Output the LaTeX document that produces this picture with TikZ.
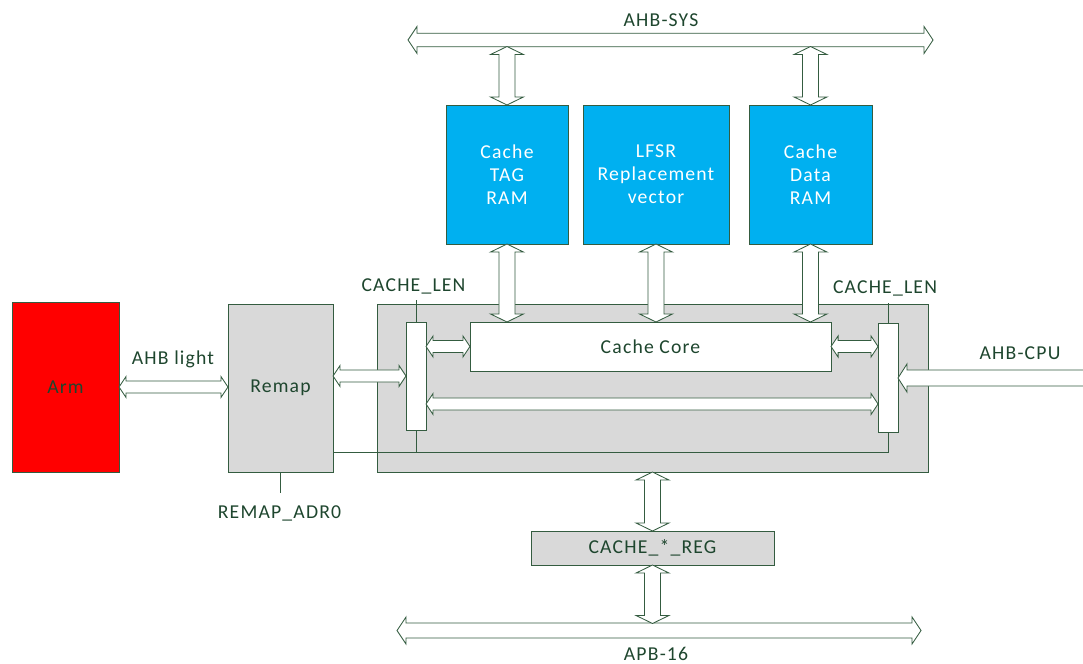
\documentclass[tikz,border=0pt]{standalone}
\usepackage{fontspec}
\setmainfont[LetterSpace=6]{Carlito}
\usepackage{tikz}
\usetikzlibrary{calc}
\definecolor{linegreen}{RGB}{52,92,64}
\definecolor{textgreen}{RGB}{30,70,46}
\definecolor{boxgray}{RGB}{217,217,217}
\definecolor{ramblue}{RGB}{0,176,240}
\newcommand{\sigfont}{\fontsize{14}{16.4}\selectfont}
\tikzset{bus shaft/.store in=\busshaft, bus head/.store in=\bushead, bus tip/.store in=\bustip, bus shaft=4.3pt, bus head=7.5pt, bus tip=5pt}
\tikzset{block/.style={rectangle, draw=linegreen, line width=0.6pt, inner sep=0pt, outer sep=0pt, text=textgreen, font=\sigfont}}
\tikzset{graybox/.style={block, fill=boxgray}}
\tikzset{rambox/.style={block, fill=ramblue, text=white, align=center, minimum width=#1, minimum height=3.475cm}}
\tikzset{muxbox/.style={block, fill=white, minimum width=0.5cm}}
\tikzset{signame/.style={text=textgreen, anchor=base, inner sep=0pt, font=\sigfont}}
\tikzset{wire/.style={draw=linegreen, line width=0.6pt}}
\tikzset{hbus/.style={draw=linegreen, fill=white, line width=0.6pt, to path={let \p1=(\tikztostart), \p2=(\tikztotarget) in
  (\x1,\y1) -- (\x1+\bustip,\y1+\bushead) -- (\x1+\bustip,\y1+\busshaft) -- (\x2-\bustip,\y1+\busshaft) -- (\x2-\bustip,\y1+\bushead) -- (\x2,\y1)
  -- (\x2-\bustip,\y1-\bushead) -- (\x2-\bustip,\y1-\busshaft) -- (\x1+\bustip,\y1-\busshaft) -- (\x1+\bustip,\y1-\bushead) -- cycle}}}
\tikzset{hbusin/.style={draw=linegreen, fill=white, line width=0.6pt, to path={let \p1=(\tikztostart), \p2=(\tikztotarget) in
  (\x2,\y2) -- (\x2+\bustip,\y2+\bushead) -- (\x2+\bustip,\y2+\busshaft) -- (\x1,\y2+\busshaft) -- (\x1,\y2-\busshaft) -- (\x2+\bustip,\y2-\busshaft) -- (\x2+\bustip,\y2-\bushead) -- cycle}}}
\tikzset{vbus/.style={draw=linegreen, fill=white, line width=0.6pt, bus shaft=5.7pt, bus head=11.7pt, bus tip=5.7pt, to path={let \p1=(\tikztostart), \p2=(\tikztotarget) in
  (\x1,\y1) -- (\x1+\bushead,\y1-\bustip) -- (\x1+\busshaft,\y1-\bustip) -- (\x1+\busshaft,\y2+\bustip) -- (\x1+\bushead,\y2+\bustip) -- (\x1,\y2)
  -- (\x1-\bushead,\y2+\bustip) -- (\x1-\busshaft,\y2+\bustip) -- (\x1-\busshaft,\y1-\bustip) -- (\x1-\bushead,\y1-\bustip) -- cycle}}}
\tikzset{sysbus/.style={hbus, bus shaft=4.8pt, bus head=9.6pt, bus tip=6.4pt}}

\begin{document}
\begin{tikzpicture}[x=0.025cm, y=-0.025cm]
    \useasboundingbox (0,0) rectangle (1083,663);

    \node [block, fill=red, minimum width=2.675cm, minimum height=4.25cm](arm) at (65.5,387){Arm};
    \node [graybox, minimum width=2.625cm, minimum height=4.2cm](remap) at (280.5,388){Remap};
    \node [graybox, minimum width=13.775cm, minimum height=4.2cm](cache) at (652.5,388){};
    \node [block, fill=white, minimum width=9.025cm, minimum height=1.225cm](core) at (650.5,346.5){Cache Core};
    \node [muxbox, minimum height=2.7cm](lmux) at (416,376){};
    \node [muxbox, minimum height=2.725cm](rmux) at (888,377.5){};
    \node [rambox=3.05cm](tag) at (507,174.5){Cache\\TAG\\RAM};
    \node [rambox=3.65cm](lfsr) at (656,174.5){LFSR\\Replacement\\vector};
    \node [rambox=3.075cm](data) at (810.5,174.5){Cache\\Data\\RAM};
    \node [graybox, minimum width=6.075cm, minimum height=0.85cm](reg) at (652.5,548){CACHE\_*\_REG};

    \node [signame](sys) at (661,27){AHB-SYS};
    \node [signame](apb) at (656,660){APB-16};
    \node [signame](light) at (173,364){AHB light};
    \node [signame](cpu) at (1020,359){AHB-CPU};
    \node [signame](lenl) at (413.5,291){CACHE\_LEN};
    \node [signame](lenr) at (885,293){CACHE\_LEN};
    \node [signame](adr) at (279.5,518){REMAP\_ADR0};

    \coordinate (sysL) at (408,40);
    \coordinate (sysR) at (933,40);
    \coordinate (sysbot) at (0,46.5);
    \coordinate (apbL) at (397,630.5);
    \coordinate (apbR) at (921,630.5);
    \coordinate (apbtop) at (0,623.5);
    \coordinate (cpuin) at (1100,378);
    \coordinate (wayrow) at (0,404);
    \coordinate (cfgrow) at (0,452);
    \coordinate (lenltop) at (416,300);
    \coordinate (lenrtop) at (888,303);
    \coordinate (adrtop) at (280.5,493);

    % control wires
    \draw[wire] (lmux.north) -- (lenltop);
    \draw[wire] (rmux.north) -- (lenrtop);
    \draw[wire] (remap.south) -- (adrtop);
    \draw[wire] (remap.east |- cfgrow) -- (rmux.south |- cfgrow) -- (rmux.south);
    \draw[wire] (lmux.south) -- (lmux.south |- cfgrow);

    \draw[sysbus] (sysL) to (sysR);
    \draw[sysbus, bus shaft=5.3pt] (apbL) to (apbR);
    \draw[vbus] (tag.north |- sysbot) to (tag.north);
    \draw[vbus] (data.north |- sysbot) to (data.north);
    \draw[vbus] (tag.south) to (tag.south |- core.north);
    \draw[vbus] (lfsr.south) to (lfsr.south |- core.north);
    \draw[vbus] (data.south) to (data.south |- core.north);
    \draw[vbus] (reg.north |- cache.south) to (reg.north);
    \draw[vbus] (reg.south) to (reg.south |- apbtop);

    \draw[hbus] (arm.east) to (remap.west);
    \draw[hbus] (remap.east |- lmux.west) to (lmux.west);
    \draw[hbus] (lmux.east |- core.west) to (core.west);
    \draw[hbus] (core.east) to (rmux.west |- core.east);
    \draw[hbus] (lmux.east |- wayrow) to (rmux.west |- wayrow);
    \draw[hbusin, bus shaft=5.7pt, bus head=10pt, bus tip=6.4pt] (cpuin) to (rmux.east |- cpuin);
\end{tikzpicture}
\end{document}
